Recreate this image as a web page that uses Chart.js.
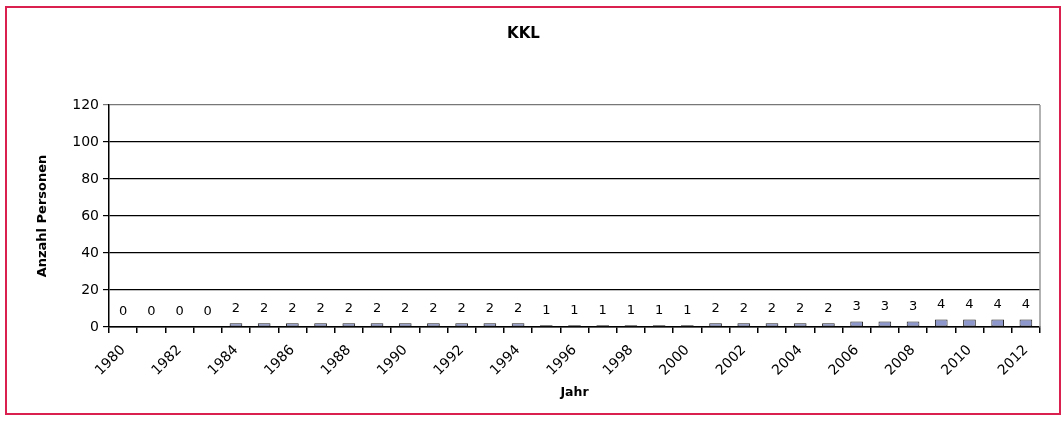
<!DOCTYPE html>
<html>
<head>
<meta charset="utf-8">
<script src="https://cdn.jsdelivr.net/npm/chart.js@4.4.1/dist/chart.umd.min.js"></script>
<style>
	html, body { margin: 0; padding: 0; background: #fff; }
	#frame {
		position: absolute; left: 5px; top: 6px;
		width: 1052px; height: 405px;
		border: 2px solid #d9204f;
	}
	#chart { display: block; }
</style>
</head>
<body>
<div id="frame"><canvas id="chart" width="1052" height="405"></canvas></div>
<script>
const years = [];
for (let y = 1980; y <= 2012; y++) years.push(String(y));

const persons = [0, 0, 0, 0, 2, 2, 2, 2, 2, 2, 2, 2, 2, 2, 2, 1, 1, 1, 1, 1, 1, 2, 2, 2, 2, 2, 3, 3, 3, 4, 4, 4, 4];

const yTicks = [0, 20, 40, 60, 80, 100, 120];

const font = 'DejaVu Sans';

const valueLabels = {
	id: 'valueLabels',
	afterDatasetsDraw(chart) {
		const ctx = chart.ctx;
		const meta = chart.getDatasetMeta(0);
		ctx.save();
		ctx.fillStyle = '#000';
		ctx.font = '13px "' + font + '"';
		ctx.textAlign = 'center';
		ctx.textBaseline = 'middle';
		meta.data.forEach((bar, i) => {
			ctx.fillText(String(persons[i]), bar.x, bar.y - 15);
		});
		// right edge of the plot area
		const a = chart.chartArea;
		ctx.strokeStyle = '#999';
		ctx.lineWidth = 1.5;
		ctx.beginPath();
		ctx.moveTo(a.right, a.top);
		ctx.lineTo(a.right, a.bottom);
		ctx.stroke();
		ctx.restore();
	}
};

const ctx = document.getElementById('chart').getContext('2d');
new Chart(ctx, {
	type: 'bar',
	data: {
		labels: years,
		datasets: [{
			label: 'KKL',
			data: persons,
			backgroundColor: '#8e97cb',
			borderColor: '#222',
			borderWidth: 1,
			borderSkipped: false,
			barPercentage: 0.45,
			categoryPercentage: 1
		}]
	},
	options: {
		responsive: false,
		animation: false,
		layout: { padding: { left: 0, right: 19, top: 0, bottom: 0 } },
		plugins: {
			legend: { display: false },
			tooltip: { enabled: false },
			title: {
				display: true,
				text: 'KKL',
				color: '#000',
				font: { family: font, size: 15, weight: 'bold' },
				padding: { top: 17, bottom: 62 }
			}
		},
		scales: {
			x: {
				afterFit(scale) { scale.height = 86; },
				grid: {
					offset: true,
					drawOnChartArea: false,
					drawTicks: true,
					tickLength: 6,
					color: '#000',
					lineWidth: 1.5
				},
				border: { color: '#000', width: 1.5 },
				ticks: {
					autoSkip: false,
					maxRotation: 45,
					minRotation: 45,
					color: '#000',
					font: { family: font, size: 14 },
					padding: 9,
					callback: function(value, index) {
						return index % 2 === 0 ? years[index] : '';
					}
				},
				title: {
					display: true,
					text: 'Jahr',
					color: '#000',
					font: { family: font, size: 12.5, weight: 'bold' },
					padding: { top: 0, bottom: 13 }
				}
			},
			y: {
				min: 0,
				max: 120,
				afterFit(scale) { scale.width = 102; },
				afterBuildTicks(scale) {
					scale.ticks = yTicks.map(v => ({ value: v }));
				},
				grid: {
					color: ctx => ctx.tick && ctx.tick.value === 120 ? '#777' : '#000',
					lineWidth: 1.2,
					tickLength: 6
				},
				border: { color: '#000', width: 1.5 },
				ticks: {
					color: '#000',
					font: { family: font, size: 14 },
					padding: 4
				},
				title: {
					display: true,
					text: 'Anzahl Personen',
					color: '#000',
					font: { family: font, size: 13, weight: 'bold' },
					padding: { top: 28, bottom: 14 }
				}
			}
		}
	},
	plugins: [valueLabels]
});
</script>
</body>
</html>
